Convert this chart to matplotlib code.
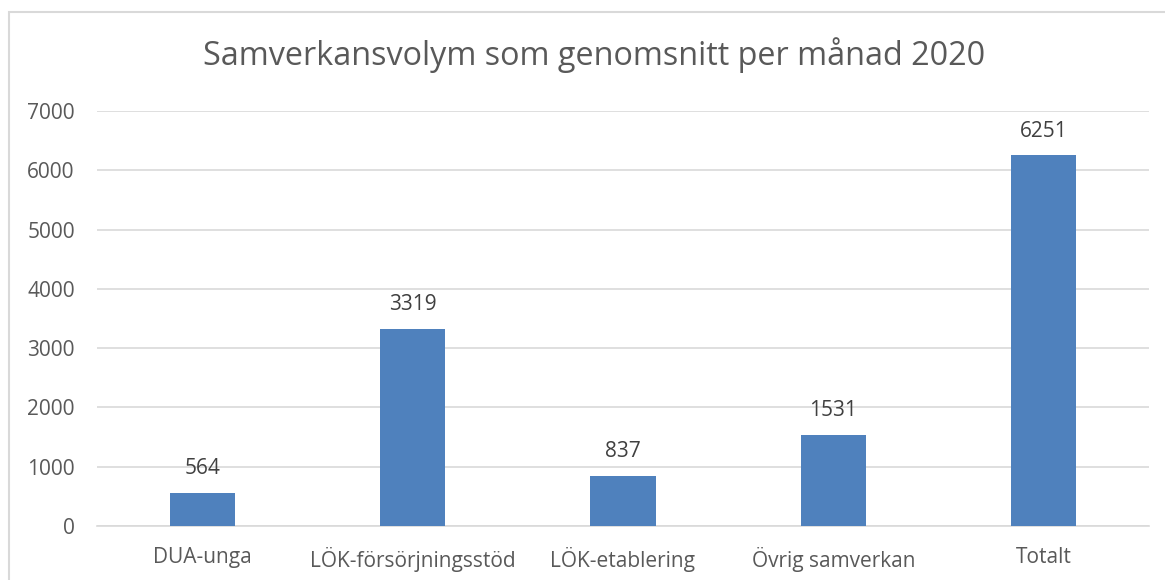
import matplotlib.pyplot as plt
from matplotlib.patches import Rectangle

# data
kategorier = ["DUA-unga", "LÖK-försörjningsstöd", "LÖK-etablering", "Övrig samverkan", "Totalt"]
volym = [564, 3319, 837, 1531, 6251]
titel = "Samverkansvolym som genomsnitt per månad 2020"

plt.rcParams['font.family'] = ['Open Sans', 'DejaVu Sans']
textfarg = "#595959"

fig = plt.figure(figsize=(11.65, 5.8), dpi=100)
ax = fig.add_axes([97 / 1165, 1 - 526 / 580, 1052 / 1165, 415 / 580])

x = range(len(kategorier))
staplar = ax.bar(x, volym, width=0.31, color="#4F81BD", zorder=3)

for i, v in zip(x, volym):
    ax.annotate(str(v), (i, v), xytext=(0, 10), textcoords="offset points",
                ha="center", va="bottom", fontsize=15, color="#404040")

ax.set_xlim(-0.5, len(kategorier) - 0.5)
ax.set_ylim(0, 7000)
ax.set_yticks(range(0, 7001, 1000))
ax.set_xticks(list(x))
ax.set_xticklabels(kategorier)
ax.yaxis.grid(True, color="#D9D9D9", linewidth=1.2, zorder=0)
ax.tick_params(axis="both", length=0, labelsize=15, colors=textfarg)
ax.tick_params(axis="x", pad=15)
ax.tick_params(axis="y", pad=16)
for s in ["top", "right", "left"]:
    ax.spines[s].set_visible(False)
ax.spines["bottom"].set_color("#D9D9D9")
ax.spines["bottom"].set_linewidth(1.2)

fig.text(594 / 1165, 1 - 55 / 580, titel, ha="center", va="center", fontsize=23.3, color=textfarg)

# ram runt diagrammet
ram = Rectangle((9 / 1165, -0.1), 1.2, 1 - 12 / 580 + 0.1, transform=fig.transFigure,
                fill=False, edgecolor="#D9D9D9", linewidth=1.5)
fig.add_artist(ram)

fig.savefig("out.png", dpi=100)
